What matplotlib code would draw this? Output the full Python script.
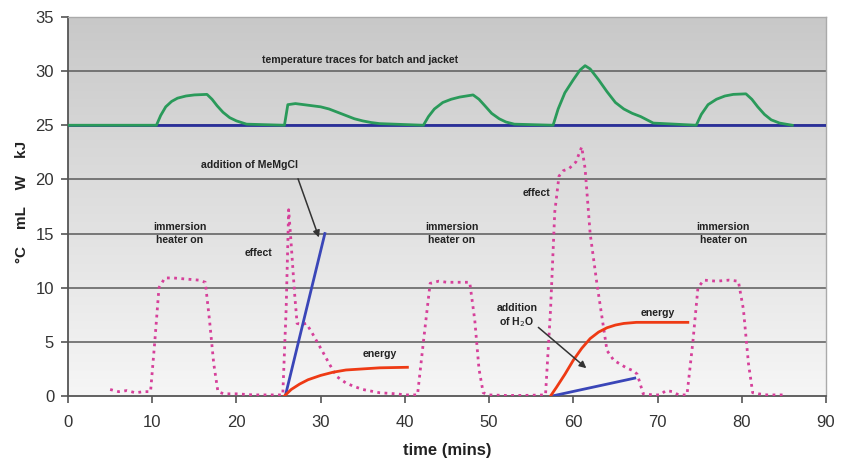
import numpy as np
import matplotlib
matplotlib.use("Agg")
import matplotlib.pyplot as plt

plt.rcParams["font.family"] = ["Liberation Sans", "DejaVu Sans"]

# batch temperature trace (green)
batch_t = [0, 10.5, 11.0, 11.6, 12.3, 13, 14, 15, 16.5, 17.1, 17.7, 18.4, 19.2, 20, 21.2, 25.7, 26.1, 27, 28, 29, 30, 31, 32, 33, 34, 35, 36, 37, 42.2, 42.8, 43.5, 44.5, 45.5, 46.5, 48.1, 48.8, 49.5, 50.3, 51.2, 52, 53, 57.6, 58.2, 59, 60, 60.8, 61.4, 62, 63, 64, 65, 66, 67, 68, 69.5, 74.6, 75.2, 76, 77, 78, 79, 80.5, 81.2, 81.9, 82.7, 83.5, 84.5, 86]
batch_T = [25.0, 25.0, 25.9, 26.7, 27.2, 27.5, 27.7, 27.8, 27.85, 27.4, 26.8, 26.2, 25.7, 25.4, 25.1, 25.0, 26.9, 27.0, 26.9, 26.8, 26.7, 26.5, 26.2, 25.9, 25.6, 25.4, 25.25, 25.15, 25.0, 25.8, 26.5, 27.1, 27.4, 27.6, 27.8, 27.4, 26.8, 26.1, 25.6, 25.3, 25.1, 25.0, 26.5, 28.0, 29.2, 30.1, 30.5, 30.2, 29.2, 28.1, 27.1, 26.5, 26.1, 25.8, 25.2, 25.0, 26.0, 26.9, 27.4, 27.7, 27.85, 27.9, 27.4, 26.7, 26.0, 25.5, 25.2, 25.0]

# jacket temperature trace (blue)
jacket_t = [0, 90]
jacket_T = [25.0, 25.0]

# effect (pink dotted)
effect_t = [5, 6, 7, 8, 9, 9.8, 10.3, 10.8, 11.5, 12.5, 14, 15.5, 16.3, 16.8, 17.3, 17.8, 18.5, 20, 22, 24, 25.5, 25.9, 26.2, 26.5, 26.9, 27.2, 27.7, 28.3, 29, 30.3, 31, 31.9, 33, 33.9, 35, 37, 39, 40, 41.5, 42.2, 43, 44, 45, 46, 47.7, 48.3, 48.8, 49.3, 50, 52, 54, 56.7, 57.3, 57.8, 58.3, 58.8, 59.5, 60.3, 61.0, 61.4, 62.0, 62.8, 63.4, 64.0, 64.8, 66.3, 67.2, 67.6, 68.3, 69.5, 70.3, 71, 71.8, 72.5, 73.5, 74.2, 74.8, 75.5, 77, 78.5, 79.6, 80.2, 80.8, 81.3, 82, 83, 84, 85]
effect_P = [0.6, 0.4, 0.5, 0.3, 0.4, 0.4, 5.0, 10.0, 10.9, 10.9, 10.8, 10.7, 10.5, 7.0, 3.0, 0.4, 0.2, 0.2, 0.1, 0.1, 0.1, 8.0, 17.2, 14.0, 9.5, 6.7, 6.6, 6.7, 5.8, 4.0, 3.0, 1.8, 1.2, 0.9, 0.6, 0.3, 0.2, 0.1, 0.1, 5.0, 10.4, 10.6, 10.5, 10.5, 10.5, 7.0, 2.5, 0.3, 0.1, 0.05, 0.05, 0.1, 8.0, 17.0, 20.3, 20.8, 21.0, 21.6, 23.0, 21.0, 15.0, 10.4, 7.3, 4.2, 3.3, 2.6, 2.3, 2.0, 0.2, 0.1, 0.1, 0.5, 0.4, 0.1, 0.1, 5.0, 10.0, 10.7, 10.6, 10.7, 10.6, 8.0, 3.0, 0.3, 0.2, 0.1, 0.1, 0.1]

# addition volumes (blue)
memgcl_t = [25.8, 30.5]
memgcl_V = [0.0, 15.0]
water_t = [57.5, 67.3]
water_V = [0.0, 1.65]

# energy (red)
energy1_t = [25.7, 26.5, 27.5, 28.5, 30, 31.5, 33, 35, 37, 40.3]
energy1_E = [0.0, 0.6, 1.1, 1.5, 1.9, 2.2, 2.4, 2.5, 2.6, 2.65]
energy2_t = [57.3, 58, 59, 60, 61, 62, 63, 64, 65, 66, 67.5, 70, 73.6]
energy2_E = [0.0, 0.8, 2.0, 3.3, 4.4, 5.3, 5.9, 6.3, 6.55, 6.7, 6.8, 6.8, 6.8]

xticks = [0, 10, 20, 30, 40, 50, 60, 70, 80, 90]
yticks = [0, 5, 10, 15, 20, 25, 30, 35]

fig = plt.figure(figsize=(8.44, 4.58), dpi=100)
ax = fig.add_axes([0.0806, 0.1354, 0.898, 0.8276])

# grey gradient background
grad = np.linspace(0, 1, 256).reshape(-1, 1)
ax.imshow(grad, extent=[0, 90, 0, 35], aspect="auto", origin="lower",
          cmap=matplotlib.colors.LinearSegmentedColormap.from_list("bg", ["#f6f6f6", "#c8c8c8"]),
          zorder=0)

for y in yticks[1:-1]:
    ax.axhline(y, color="#5a5a5a", lw=1.1, zorder=1)

ax.plot(jacket_t, jacket_T, color="#2a2f9a", lw=2, zorder=3)
ax.plot(batch_t, batch_T, color="#2a9a5a", lw=2, zorder=4)
ax.plot(effect_t, effect_P, color="#d6409a", lw=2, ls=(0, (1, 1.6)), zorder=3)
ax.plot(memgcl_t, memgcl_V, color="#3a46b8", lw=2, zorder=4)
ax.plot(water_t, water_V, color="#3a46b8", lw=2, zorder=4)
ax.plot(energy1_t, energy1_E, color="#ee3a14", lw=2, zorder=4)
ax.plot(energy2_t, energy2_E, color="#ee3a14", lw=2, zorder=4)

tk = dict(fontsize=7.6, fontweight="bold", color="#222222", ha="center", va="center")
ax.text(34.7, 31.0, "temperature traces for batch and jacket", **tk)
ax.text(21.6, 21.3, "addition of MeMgCl", **tk)
ax.text(22.6, 13.2, "effect", **tk)
ax.text(55.6, 18.7, "effect", **tk)
ax.text(13.3, 15.0, "immersion\nheater on", linespacing=1.3, **tk)
ax.text(45.6, 15.0, "immersion\nheater on", linespacing=1.3, **tk)
ax.text(77.8, 15.0, "immersion\nheater on", linespacing=1.3, **tk)
ax.text(37.0, 3.9, "energy", **tk)
ax.text(70.0, 7.7, "energy", **tk)
ax.text(53.3, 7.4, "addition\nof H$_2$O", linespacing=1.2, **tk)

ax.annotate("", xy=(29.9, 14.4), xytext=(27.2, 20.3),
            arrowprops=dict(arrowstyle="-|>", color="#333333", lw=1.1, mutation_scale=10), zorder=5)
ax.annotate("", xy=(61.8, 2.4), xytext=(55.6, 6.5),
            arrowprops=dict(arrowstyle="-|>", color="#333333", lw=1.1, mutation_scale=10), zorder=5)

ax.set_xlim(0, 90)
ax.set_ylim(0, 35)
ax.set_xticks(xticks)
ax.set_yticks(yticks)
ax.tick_params(direction="out", length=5, width=1.2, color="#555555",
               labelsize=12, labelcolor="#333333")
ax.tick_params(axis="x", pad=9)
ax.tick_params(axis="y", pad=5)
for side in ["top", "right"]:
    ax.spines[side].set_color("#aaaaaa")
    ax.spines[side].set_linewidth(1)
for side in ["left", "bottom"]:
    ax.spines[side].set_color("#555555")
    ax.spines[side].set_linewidth(1.3)

ax.set_xlabel("time (mins)", fontsize=12, fontweight="bold", color="#222222", labelpad=9)
fig.text(0.026, 0.56, "°C    mL    W    kJ", rotation=90, fontsize=11, fontweight="bold",
         color="#222222", ha="center", va="center")

fig.savefig("out.png", dpi=100)
